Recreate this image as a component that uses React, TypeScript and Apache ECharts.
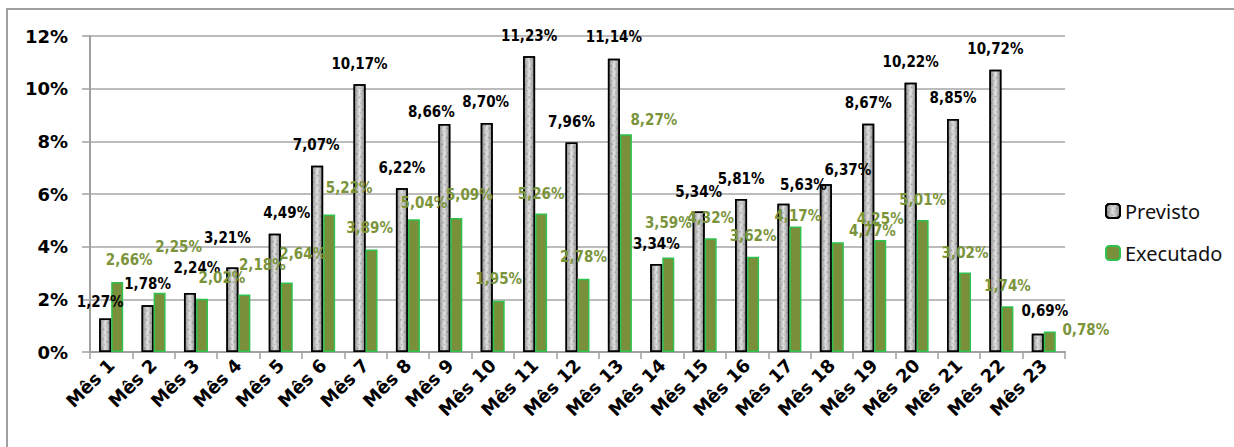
import React, { useEffect, useRef } from "react";
import * as echarts from "echarts";

const categories = [
  "Mês 1", "Mês 2", "Mês 3", "Mês 4", "Mês 5", "Mês 6", "Mês 7", "Mês 8",
  "Mês 9", "Mês 10", "Mês 11", "Mês 12", "Mês 13", "Mês 14", "Mês 15", "Mês 16",
  "Mês 17", "Mês 18", "Mês 19", "Mês 20", "Mês 21", "Mês 22", "Mês 23",
];

const previsto = [
  1.27, 1.78, 2.24, 3.21, 4.49, 7.07, 10.17, 6.22, 8.66, 8.7, 11.23, 7.96,
  11.14, 3.34, 5.34, 5.81, 5.63, 6.37, 8.67, 10.22, 8.85, 10.72, 0.69,
];

const executado = [
  2.66, 2.25, 2.02, 2.18, 2.64, 5.22, 3.89, 5.04, 5.09, 1.95, 5.26, 2.78,
  8.27, 3.59, 4.32, 3.62, 4.77, 4.17, 4.25, 5.01, 3.02, 1.74, 0.78,
];

const yTicks = { min: 0, max: 12, interval: 2 };

// label nudges (px) as placed in the original chart
const previstoLabelShift = [
  [-5, 4], [0, -1], [7, -5], [-5, -9], [12, 0], [-1, 0], [0, 0], [0, 0],
  [-13, 9], [-1, 0], [0, 0], [0, 0], [0, -1], [0, 0], [0, 1], [0, 0],
  [20, 2], [22, 6], [0, 0], [0, 0], [0, 0], [0, 0], [7, -2],
];
const executadoLabelShift = [
  [12, -1], [19, -25], [20, 0], [18, -9], [16, -8], [20, -6], [-2, -1], [10, 4],
  [13, -2], [0, -1], [0, 1], [0, -1], [28, 6], [0, -14], [0, 0], [0, 0],
  [77, 25], [-40, -6], [0, -1], [0, 0], [0, 1], [0, 0], [36, 19],
];

const fmt = (v: number) => v.toFixed(2).replace(".", ",") + "%";

export default function App() {
  const ref = useRef<HTMLDivElement>(null);
  useEffect(() => {
    if (!ref.current) return;
    const chart = echarts.init(ref.current, null, { renderer: "svg" });
    const grayFill = new echarts.graphic.LinearGradient(0, 0, 1, 0, [
      { offset: 0, color: "#8a8a8a" },
      { offset: 0.5, color: "#e4e4e4" },
      { offset: 1, color: "#8a8a8a" },
    ]);
    const labelFont = "'DejaVu Sans Condensed', 'Liberation Sans Narrow', 'Liberation Sans', sans-serif";
    const prevData = previsto.map((v, i) => ({
      value: v,
      label: { offset: previstoLabelShift[i] },
    }));
    const execData = executado.map((v, i) => ({
      value: v,
      label: { offset: executadoLabelShift[i] },
    }));
    chart.setOption({
      animation: false,
      backgroundColor: "#ffffff",
      graphic: [
        {
          type: "rect",
          shape: { x: 7, y: 9, width: 1260, height: 480 },
          style: { fill: "none", stroke: "#a0a0a0", lineWidth: 2 },
          silent: true,
        },
      ],
      grid: { left: 90, right: 169, top: 36, bottom: 95 },
      legend: {
        orient: "vertical",
        left: 1100,
        top: 196,
        itemWidth: 14,
        itemHeight: 14,
        itemGap: 22,
        textStyle: { fontFamily: "'Noto Sans', sans-serif", fontSize: 20, color: "#111" },
        data: ["Previsto", "Executado"],
      },
      xAxis: {
        type: "category",
        data: categories,
        boundaryGap: true,
        axisLine: { lineStyle: { color: "#a0a0a0", width: 2 } },
        axisTick: { show: true, length: 7, lineStyle: { color: "#a0a0a0", width: 1.5 } },
        axisLabel: {
          rotate: 45,
          interval: 0,
          margin: 10,
          color: "#000",
          fontFamily: "'DejaVu Sans', sans-serif",
          fontWeight: "bold",
          fontSize: 18,
        },
      },
      yAxis: {
        type: "value",
        min: yTicks.min,
        max: yTicks.max,
        interval: yTicks.interval,
        axisLine: { show: true, lineStyle: { color: "#a0a0a0", width: 2 } },
        axisTick: { show: true, length: 8, lineStyle: { color: "#a0a0a0", width: 1.5 } },
        splitLine: { lineStyle: { color: "#a6a6a6", width: 1.5 } },
        axisLabel: {
          margin: 22,
          color: "#000",
          fontFamily: "'DejaVu Sans', sans-serif",
          fontWeight: "bold",
          fontSize: 18,
          formatter: "{value}%",
        },
      },
      series: [
        {
          name: "Previsto",
          type: "bar",
          data: prevData,
          barWidth: 12,
          barGap: "0%",
          itemStyle: {
            color: grayFill,
            borderColor: "#000",
            borderWidth: 1.5,
            decal: {
              symbol: "circle",
              symbolSize: 0.7,
              color: "rgba(70,70,70,0.35)",
              dashArrayX: [[3, 2], [2, 3]],
              dashArrayY: [3, 1],
              rotation: 0.6,
            },
          },
          label: {
            show: true,
            position: "top",
            distance: 13,
            color: "#000",
            fontFamily: labelFont,
            fontWeight: "bold",
            fontSize: 15,
            formatter: (p: any) => fmt(p.value),
          },
        },
        {
          name: "Executado",
          type: "bar",
          data: execData,
          barWidth: 12,
          itemStyle: { color: "#7a8f3a", borderColor: "#2fc24f", borderWidth: 1.5 },
          label: {
            show: true,
            position: "top",
            distance: 13,
            color: "#7b943c",
            fontFamily: labelFont,
            fontWeight: "bold",
            fontSize: 15,
            formatter: (p: any) => fmt(p.value),
          },
        },
      ],
    });
    return () => chart.dispose();
  }, []);
  return (
    <div
      ref={ref}
      style={{ position: "absolute", left: 0, top: 0, width: 1234, height: 447 }}
    />
  );
}
